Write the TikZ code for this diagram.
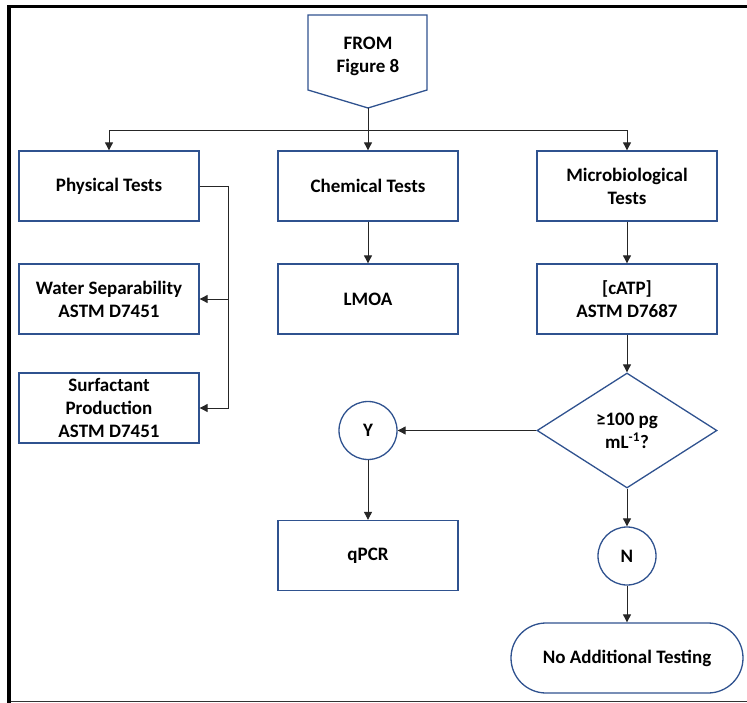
\documentclass[tikz,border=0pt]{standalone}
\usepackage{fontspec}
\setmainfont{Carlito}
\usepackage{tikz}
\usetikzlibrary{arrows.meta,shapes.geometric}
\definecolor{outline}{RGB}{47,82,143}

\begin{document}
\begin{tikzpicture}[x=1pt,y=-1pt,
    every node/.style={font=\fontsize{19}{23}\selectfont\bfseries, align=center},
    box/.style={draw=outline, line width=1.3pt, minimum width=180pt, minimum height=70pt, inner sep=0pt},
    ring/.style={circle, draw=outline, line width=1.3pt, minimum size=58pt, inner sep=0pt},
    arr/.style={-{Triangle[length=8pt,width=8pt]}, black!85, line width=0.9pt}]
      \useasboundingbox (0,0) rectangle (747,703);
      \draw[line width=3.5pt] (9,703) -- (9,6.5) -- (747,6.5);
      \draw[black!80, line width=1pt] (10.5,701.5) -- (747,701.5);
      \draw[outline, line width=1.3pt] (308,15) -- (427,15) -- (427,90) -- (368,108) -- (308,90) -- cycle;
      \node (from) at (368,56) {FROM\\Figure 8};
      \coordinate (fromtip) at (368,108);
      \coordinate (split) at (368,130);
      \coordinate (bus) at (228,186);
      \foreach \n/\x/\y/\t in {phys/109/186/{Physical Tests}, chem/368/186/{Chemical Tests},
          micro/627/186/{Microbiological\\Tests}, water/109/299/{Water Separability\\ASTM D7451},
          lmoa/368/299/{LMOA}, catp/627/299/{[cATP]\\ASTM D7687},
          surf/109/408/{Surfactant\\Production\\ASTM D7451}, qpcr/368/555.5/{qPCR}}{
          \node[box] (\n) at (\x,\y) {\t};
      }
      \node[diamond, draw=outline, line width=1.3pt, minimum width=180pt, minimum height=115pt, inner sep=0pt, aspect=1.5] (test) at (627,430.5) {≥100 pg\\mL\textsuperscript{-1}?};
      \node[ring] (yes) at (368,430.5) {Y};
      \node[ring] (no) at (627,556) {N};
      \node[draw=outline, line width=1.3pt, rounded corners=35pt, minimum width=232pt, minimum height=70pt] (none) at (627,658) {No Additional Testing};
      \draw[arr] (fromtip) -- (chem.north);
      \draw[arr] (split) -| (phys.north);
      \draw[arr] (split) -| (micro.north);
      \draw[arr] (phys.east) -- (bus) |- (water.east);
      \draw[arr] (bus) |- (surf.east);
      \foreach \a/\b in {chem/lmoa, micro/catp, catp/test, test/no, yes/qpcr, no/none}{
          \draw[arr] (\a) -- (\b);
      }
      \draw[arr] (test) -- (yes);
  \end{tikzpicture}
\end{document}
